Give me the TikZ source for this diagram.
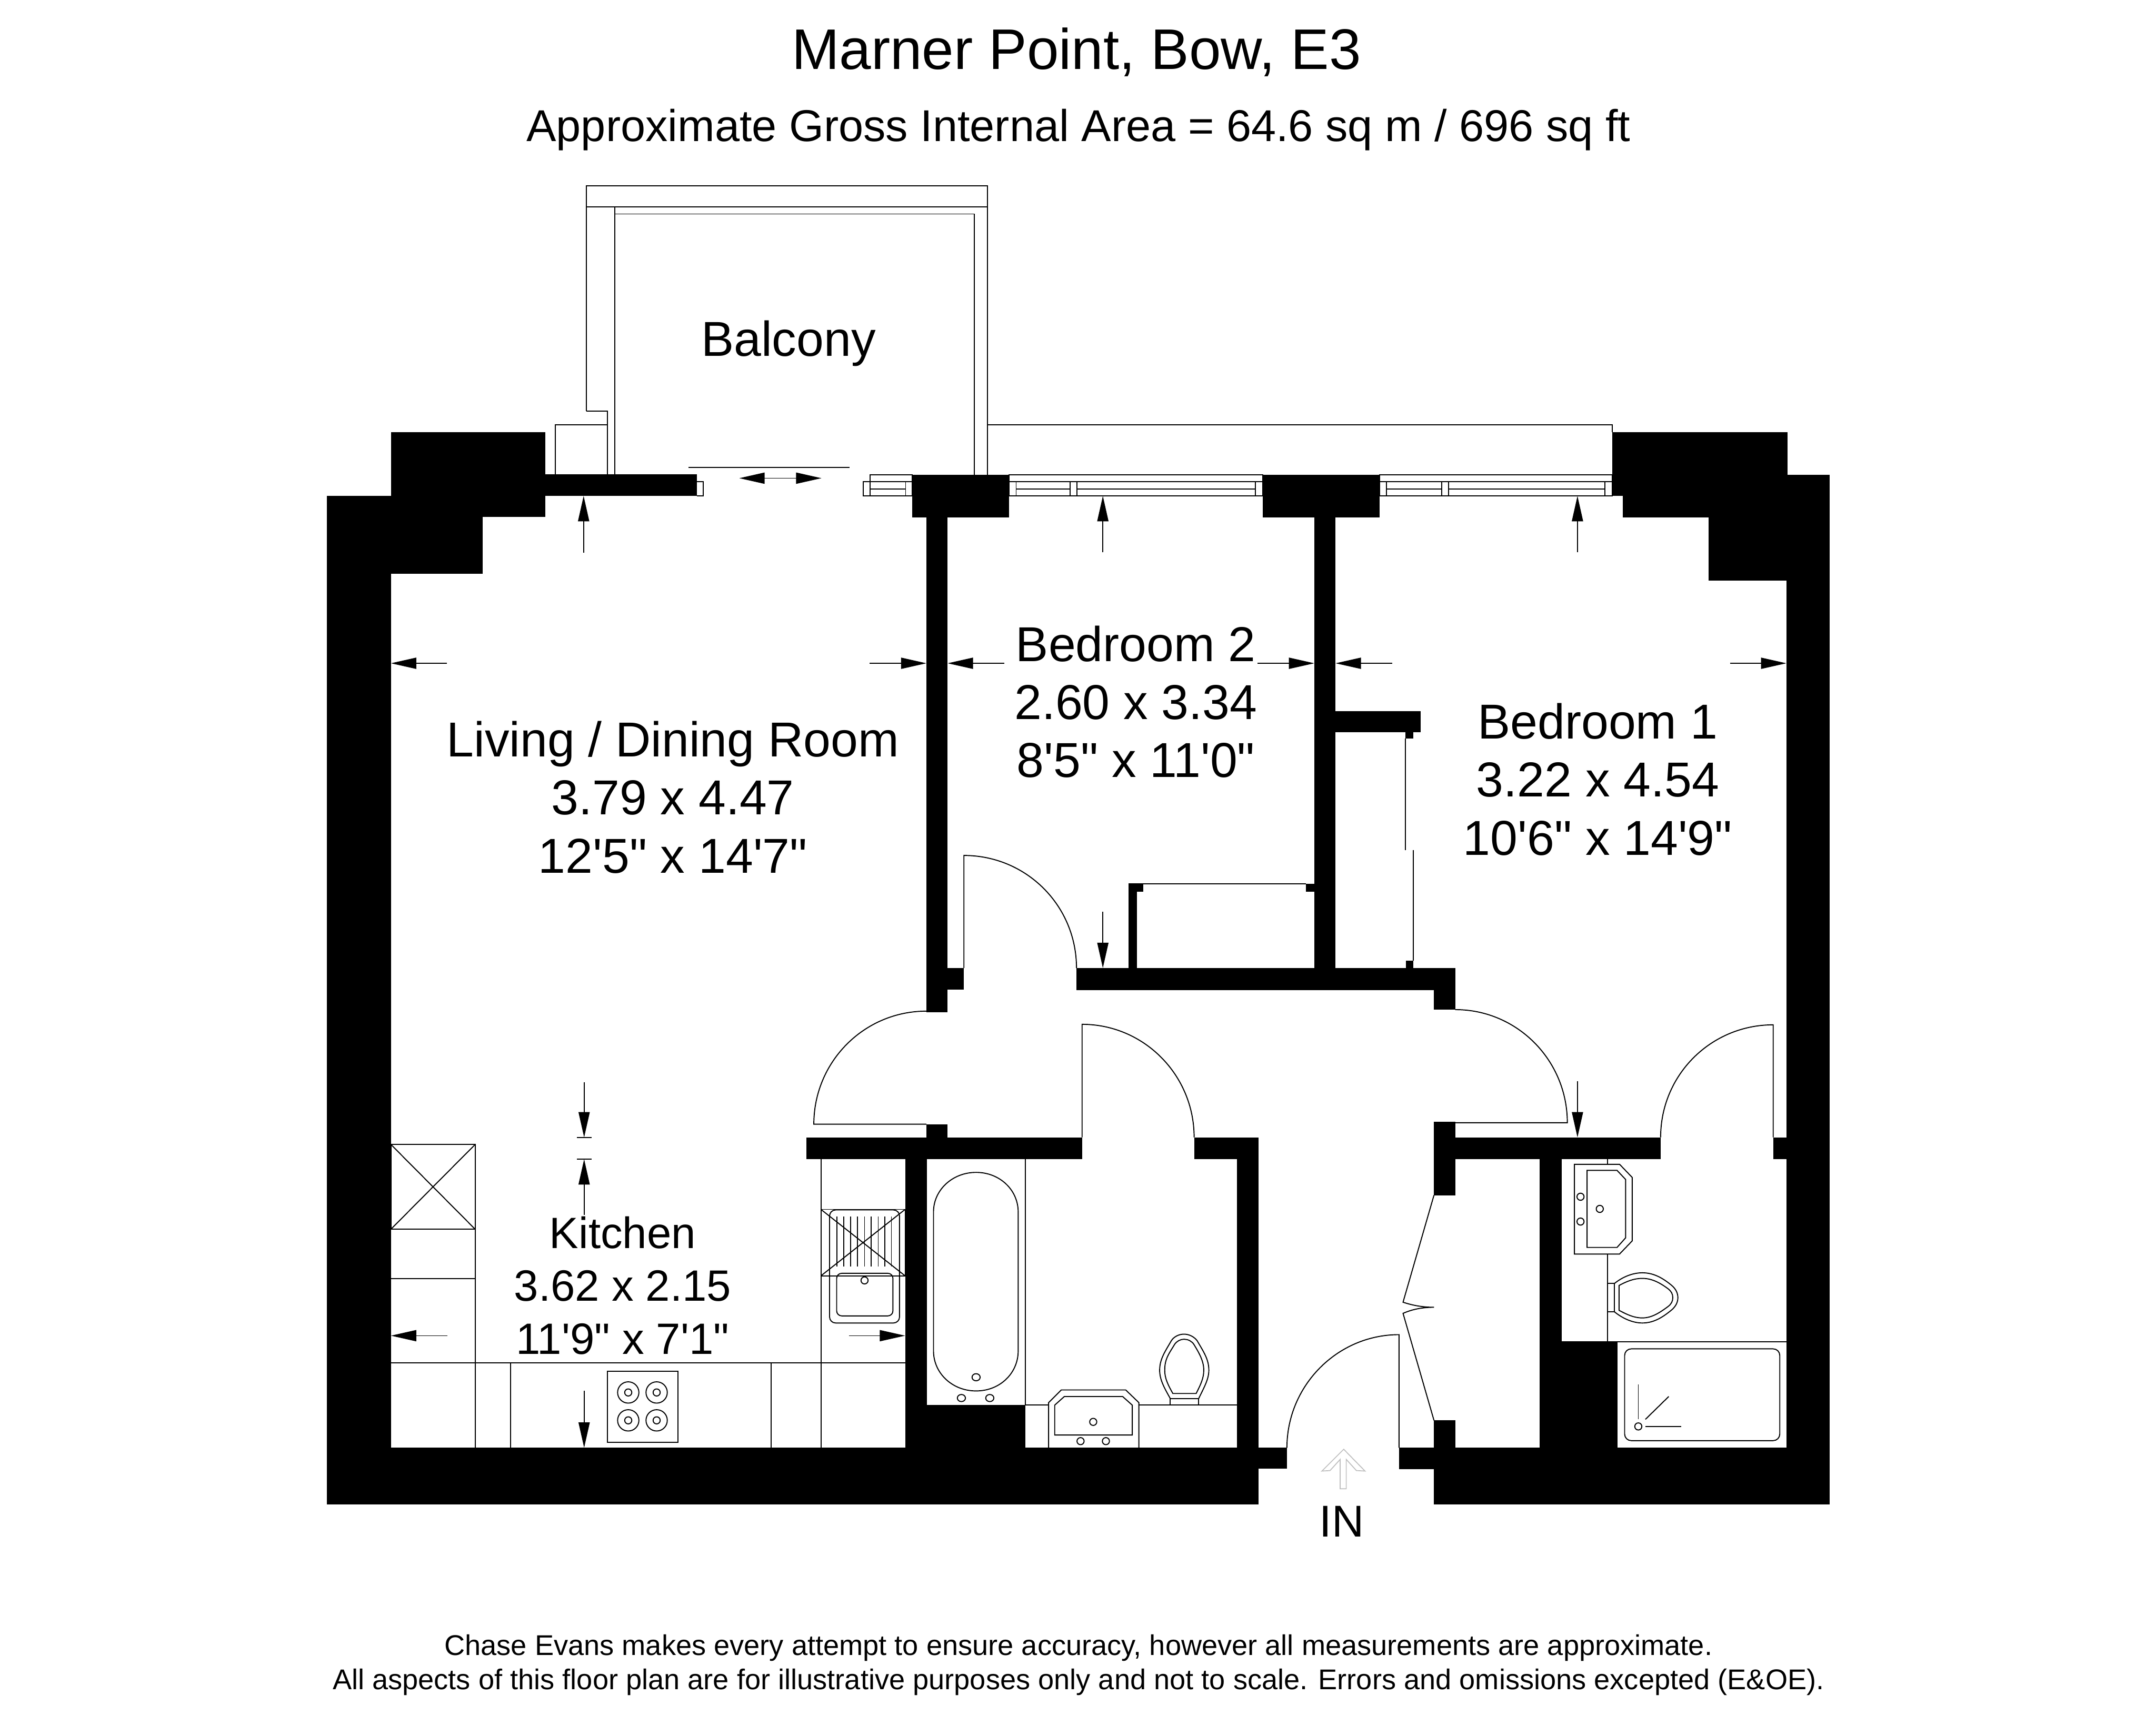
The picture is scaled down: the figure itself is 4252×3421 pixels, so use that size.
\documentclass[tikz,border=0pt]{standalone}
\usepackage{fontspec}
\newfontfamily\planfont{Liberation Sans}
\usetikzlibrary{arrows.meta}
\tikzset{
  wall/.style={fill=black,draw=none},
  ln/.style={draw=black,line width=0.02cm},
  fixture/.style={draw=black,line width=0.02cm,fill=white},
  dim/.style={draw=black,line width=0.018cm,-{Triangle[length=0.5cm,width=0.22cm]}},
  dimtwo/.style={draw=black,line width=0.018cm,{Triangle[length=0.5cm,width=0.22cm]}-{Triangle[length=0.5cm,width=0.22cm]}},
  titletxt/.style={anchor=base,font=\planfont\fontsize{32.1}{38}\selectfont},
  subtxt/.style={anchor=base,font=\planfont\fontsize{25}{30}\selectfont},
  foottxt/.style={anchor=base,font=\planfont\fontsize{16}{19}\selectfont},
  roomtxt/.style={align=center,font=\planfont\fontsize{27.5}{32.6}\selectfont},
  kitchentxt/.style={align=center,font=\planfont\fontsize{24.6}{29.6}\selectfont},
  lighttip/.style={draw=black!25,line width=0.018cm,fill=white}
}
\begin{document}
\begin{tikzpicture}[x=0.01cm,y=-0.01cm]
\useasboundingbox (0,0) rectangle (4252,3421);
\fill[white] (0,0) rectangle (4252,3421);

% ---- balcony
\draw[ln] (1156,811) -- (1156,366) -- (1947,366) -- (1947,936);
\draw[ln] (1156,408) -- (1947,408);
\draw[ln] (1212,935) -- (1212,422) -- (1921,422) -- (1921,936);
\draw[ln] (1212,408) -- (1212,422);
\draw[ln] (1156,811) -- (1198,811) -- (1198,935);
\draw[ln] (1095,935) -- (1095,838) -- (1198,838);
\draw[ln] (1947,838) -- (3180,838) -- (3180,852);
\draw[ln] (1358,922) -- (1675,922);

% ---- windows
\draw[ln] (1374,950) -- (1387,950) -- (1387,978) -- (1374,978);
\draw[ln] (1702,950) rectangle (1799,978);
\draw[ln] (1716,936) rectangle (1799,950);
\draw[ln] (1716,950) -- (1716,978);
\draw[ln] (1786,950) -- (1786,978);
\draw[ln] (1716,964) -- (1786,964);

\draw[ln] (1990,936) rectangle (2490,950);
\draw[ln] (1990,950) rectangle (2490,978);
\draw[ln] (2004,950) -- (2004,978);
\draw[ln] (2110,950) -- (2110,978);
\draw[ln] (2124,950) -- (2124,978);
\draw[ln] (2476,950) -- (2476,978);
\draw[ln] (2004,964) -- (2110,964);
\draw[ln] (2124,964) -- (2476,964);

\draw[ln] (2721,936) rectangle (3180,950);
\draw[ln] (2721,950) rectangle (3180,978);
\draw[ln] (2734,950) -- (2734,978);
\draw[ln] (2843,950) -- (2843,978);
\draw[ln] (2857,950) -- (2857,978);
\draw[ln] (3165,950) -- (3165,978);
\draw[ln] (2734,964) -- (2843,964);
\draw[ln] (2857,964) -- (3165,964);

% ---- kitchen units
\draw[ln] (771,2257) rectangle (937,2424);
\draw[ln] (771,2257) -- (937,2424);
\draw[ln] (771,2424) -- (937,2257);
\draw[ln] (771,2521) -- (937,2521);
\draw[ln] (937,2424) -- (937,2855);
\draw[ln] (771,2688) -- (1785,2688);
\draw[ln] (1007,2688) -- (1007,2855);
\draw[ln] (1521,2688) -- (1521,2855);
\draw[ln] (1619,2286) -- (1619,2855);
% hob
\draw[ln] (1198,2704) rectangle (1337,2844);
\foreach \cx/\cy in {1239/2746,1295/2746,1239/2801,1295/2801}{
  \draw[ln] (\cx,\cy) ellipse [x radius=21,y radius=21];
  \draw[ln] (\cx,\cy) ellipse [x radius=7,y radius=7];
}
% sink
\draw[ln] (1619,2385) rectangle (1785,2516);
\draw[ln] (1619,2385) -- (1785,2516);
\draw[ln] (1619,2516) -- (1785,2385);
\draw[ln,rounded corners=0.12cm] (1636,2386) rectangle (1774,2609);
\draw[ln,rounded corners=0.1cm] (1650,2511) rectangle (1761,2595);
\foreach \gx in {1651,1664,1678,1691,1705,1718,1732,1745,1758}{
  \draw[ln] (\gx,2399) -- (\gx,2498);
}
\draw[ln] (1705,2525) ellipse [x radius=7,y radius=7];

% ---- main bathroom
\draw[ln] (2022,2286) -- (2022,2771);
\draw[ln] (2022,2771) -- (2439,2771);
\draw[ln] (1841,2390) .. controls (1841,2347) and (1878,2312) .. (1925,2312) .. controls (1972,2312) and (2008,2347) .. (2008,2390) -- (2008,2664) .. controls (2008,2708) and (1972,2743) .. (1925,2743) .. controls (1878,2743) and (1841,2708) .. (1841,2664) -- cycle;
\draw[ln] (1925,2716) ellipse [x radius=8,y radius=7];
\draw[ln] (1896,2757) ellipse [x radius=8,y radius=7];
\draw[ln] (1952,2757) ellipse [x radius=8,y radius=7];
\draw[fixture] (2068,2855) -- (2068,2766) -- (2093,2741) -- (2220,2741) -- (2246,2766) -- (2246,2855);
\draw[ln] (2080,2830) -- (2080,2771) -- (2099,2754) -- (2214,2754) -- (2233,2771) -- (2233,2830) -- cycle;
\draw[ln] (2156,2804) ellipse [x radius=7,y radius=7];
\draw[ln] (2131,2842) ellipse [x radius=7,y radius=7];
\draw[ln] (2181,2842) ellipse [x radius=7,y radius=7];
\draw[ln] (2308,2758) rectangle (2364,2771);
\draw[ln] (2308,2758) .. controls (2295,2735) and (2287,2720) .. (2287,2702) .. controls (2287,2680) and (2298,2665) .. (2310,2644) .. controls (2315,2636) and (2325,2631) .. (2335,2631) .. controls (2345,2631) and (2355,2636) .. (2361,2644) .. controls (2373,2665) and (2384,2680) .. (2384,2702) .. controls (2384,2720) and (2375,2735) .. (2364,2758);
\draw[ln] (2313,2748) .. controls (2303,2730) and (2297,2718) .. (2297,2702) .. controls (2297,2680) and (2305,2670) .. (2316,2652) .. controls (2320,2645) and (2328,2641) .. (2335,2641) .. controls (2343,2641) and (2351,2645) .. (2355,2652) .. controls (2366,2670) and (2374,2685) .. (2374,2702) .. controls (2374,2718) and (2368,2730) .. (2359,2748) -- cycle;

% ---- en suite
\draw[ln] (3170,2286) -- (3170,2646);
\draw[ln] (3080,2646) -- (3523,2646);
\draw[fixture] (3105,2296) -- (3194,2296) -- (3219,2322) -- (3219,2447) -- (3194,2473) -- (3105,2473) -- cycle;
\draw[ln] (3130,2308) -- (3189,2308) -- (3206,2326) -- (3206,2441) -- (3189,2460) -- (3130,2460) -- cycle;
\draw[ln] (3117,2360) ellipse [x radius=7,y radius=7];
\draw[ln] (3117,2409) ellipse [x radius=7,y radius=7];
\draw[ln] (3155,2384) ellipse [x radius=7,y radius=7];
\draw[ln] (3170,2531) rectangle (3184,2587);
\draw[ln] (3184,2531) .. controls (3200,2518) and (3220,2510) .. (3239,2510) .. controls (3262,2510) and (3280,2521) .. (3297,2535) .. controls (3305,2542) and (3309,2550) .. (3309,2559) .. controls (3309,2568) and (3305,2576) .. (3297,2583) .. controls (3280,2597) and (3262,2609) .. (3239,2609) .. controls (3220,2609) and (3200,2600) .. (3184,2587);
\draw[ln] (3193,2535) .. controls (3208,2527) and (3222,2521) .. (3239,2521) .. controls (3258,2521) and (3274,2530) .. (3289,2541) .. controls (3296,2546) and (3299,2552) .. (3299,2559) .. controls (3299,2566) and (3296,2572) .. (3289,2577) .. controls (3274,2588) and (3258,2599) .. (3239,2599) .. controls (3222,2599) and (3208,2592) .. (3193,2584) -- cycle;
\draw[ln,rounded corners=0.13cm] (3204,2660) rectangle (3510,2841);
\draw[ln] (3231,2730) -- (3231,2799);
\draw[ln] (3231,2813) ellipse [x radius=7,y radius=7];
\draw[ln] (3245,2813) -- (3316,2813);
\draw[ln] (3245,2799) -- (3291,2754);

% ---- doors
\draw[ln] (2123,1909) .. controls (2123,1786) and (2024,1687) .. (1901,1687) -- (1901,1909);
\draw[ln] (1827,1994) .. controls (1704,1994) and (1605,2094) .. (1605,2217) -- (1827,2217);
\draw[ln] (2355,2243) .. controls (2355,2120) and (2256,2020) .. (2134,2020) -- (2134,2243);
\draw[ln] (2870,1991) .. controls (2992,1991) and (3091,2091) .. (3091,2214) -- (2870,2214);
\draw[ln] (3275,2243) .. controls (3275,2120) and (3374,2021) .. (3497,2021) -- (3497,2243);
\draw[ln] (2538,2855) .. controls (2538,2733) and (2637,2632) .. (2759,2632) -- (2759,2855);
% folding cupboard door
\draw[ln] (2828,2357) -- (2767,2568) .. controls (2785,2574) and (2805,2578) .. (2828,2578) .. controls (2805,2578) and (2785,2582) .. (2767,2590) -- (2828,2801);
% bedroom cupboards
\draw[ln] (2255,1743) -- (2575,1743);
\draw[ln] (2772,1456) -- (2772,1677);
\draw[ln] (2787,1676) -- (2787,1894);

% ---- walls
\fill[wall] (771,852) rectangle (1075,935);
\fill[wall] (771,935) rectangle (1374,978);
\fill[wall] (645,978) rectangle (1075,1019);
\fill[wall] (645,1019) rectangle (952,1131);
\fill[wall] (645,1131) rectangle (771,2855);
\fill[wall] (645,2855) rectangle (2482,2967);
\fill[wall] (2482,2855) rectangle (2538,2896);
\fill[wall] (1799,936) rectangle (1990,1020);
\fill[wall] (2490,936) rectangle (2721,1020);
\fill[wall] (3180,852) rectangle (3525,936);
\fill[wall] (3180,936) rectangle (3608,978);
\fill[wall] (3200,978) rectangle (3608,1020);
\fill[wall] (3370,1020) rectangle (3608,1145);
\fill[wall] (3523,1145) rectangle (3608,2855);
\fill[wall] (1827,1020) rectangle (1869,1996);
\fill[wall] (1827,1909) rectangle (1901,1952);
\fill[wall] (2592,1020) rectangle (2634,1909);
\fill[wall] (2592,1402) rectangle (2802,1444);
\fill[wall] (2772,1444) rectangle (2787,1456);
\fill[wall] (2123,1909) rectangle (2870,1953);
\fill[wall] (2828,1953) rectangle (2870,1991);
\fill[wall] (2226,1742) rectangle (2242,1909);
\fill[wall] (2226,1742) rectangle (2255,1758);
\fill[wall] (2575,1743) rectangle (2592,1758);
\fill[wall] (2773,1894) rectangle (2787,1909);
\fill[wall] (1827,2217) rectangle (1869,2243);
\fill[wall] (1590,2243) rectangle (2134,2286);
\fill[wall] (2355,2243) rectangle (2482,2286);
\fill[wall] (2439,2286) rectangle (2482,2855);
\fill[wall] (1785,2286) rectangle (1828,2771);
\fill[wall] (1785,2771) rectangle (2022,2855);
\fill[wall] (2828,2212) rectangle (2870,2243);
\fill[wall] (2828,2243) rectangle (3275,2286);
\fill[wall] (2828,2286) rectangle (2870,2357);
\fill[wall] (3497,2243) rectangle (3608,2286);
\fill[wall] (3036,2286) rectangle (3080,2647);
\fill[wall] (3036,2646) rectangle (3190,2855);
\fill[wall] (2828,2801) rectangle (2870,2855);
\fill[wall] (2759,2855) rectangle (3608,2897);
\fill[wall] (2828,2897) rectangle (3608,2967);

% ---- dimension arrows
\draw[dim] (1151,1090) -- (1151,978);
\draw[dim] (2175,1089) -- (2175,978);
\draw[dim] (3111,1089) -- (3111,978);
\draw[dimtwo] (1458,943) -- (1620,943);
\draw[dim] (881,1308) -- (771,1308);
\draw[dim] (1715,1308) -- (1827,1308);
\draw[dim] (1981,1308) -- (1869,1308);
\draw[dim] (2480,1308) -- (2592,1308);
\draw[dim] (2746,1308) -- (2634,1308);
\draw[dim] (3412,1308) -- (3523,1308);
\draw[dim] (2175,1798) -- (2175,1909);
\draw[dim] (3111,2132) -- (3111,2243);
\draw[dim] (1152,2134) -- (1152,2243);
\draw[ln] (1138,2243) -- (1167,2243);
\draw[dim] (1152,2396) -- (1152,2286);
\draw[ln] (1138,2286) -- (1167,2286);
\draw[dim] (882,2634) -- (771,2634);
\draw[dim] (1674,2634) -- (1785,2634);
\draw[dim] (1152,2743) -- (1152,2855);
% entrance arrow
\draw[lighttip] (2650,2858) -- (2692,2901) -- (2675,2900) -- (2655,2878) -- (2655,2936) -- (2643,2936) -- (2643,2878) -- (2623,2900) -- (2607,2901) -- cycle;

% ---- texts
\node[titletxt] (title) at (2123,136) {Marner Point, Bow, E3};
\node[subtxt] (subtitle) at (2127,279) {Approximate Gross Internal Area = 64.6 sq m / 696 sq ft};
\node[anchor=base,font=\planfont\fontsize{27.5}{32.6}\selectfont] (balcony) at (1555,702) {Balcony};
\node[roomtxt] (living) at (1327,1572) {Living / Dining Room\\3.79 x 4.47\\12'5" x 14'7"};
\node[roomtxt] (bedtwo) at (2240,1384) {Bedroom 2\\2.60 x 3.34\\8'5" x 11'0"};
\node[roomtxt] (bedone) at (3151,1537) {Bedroom 1\\3.22 x 4.54\\10'6" x 14'9"};
\node[kitchentxt] (kitchen) at (1228,2535) {Kitchen\\3.62 x 2.15\\11'9" x 7'1"};
\node[anchor=base,font=\planfont\fontsize{25}{30}\selectfont] (intxt) at (2646,3031) {IN};
\node[foottxt] (footone) at (2127,3264) {Chase Evans makes every attempt to ensure accuracy, however all measurements are approximate.};
\node[foottxt] (foottwo) at (2127,3332) {All aspects of this floor plan are for illustrative purposes only and not to scale. Errors and omissions excepted (E\&OE).};
\end{tikzpicture}
\end{document}
